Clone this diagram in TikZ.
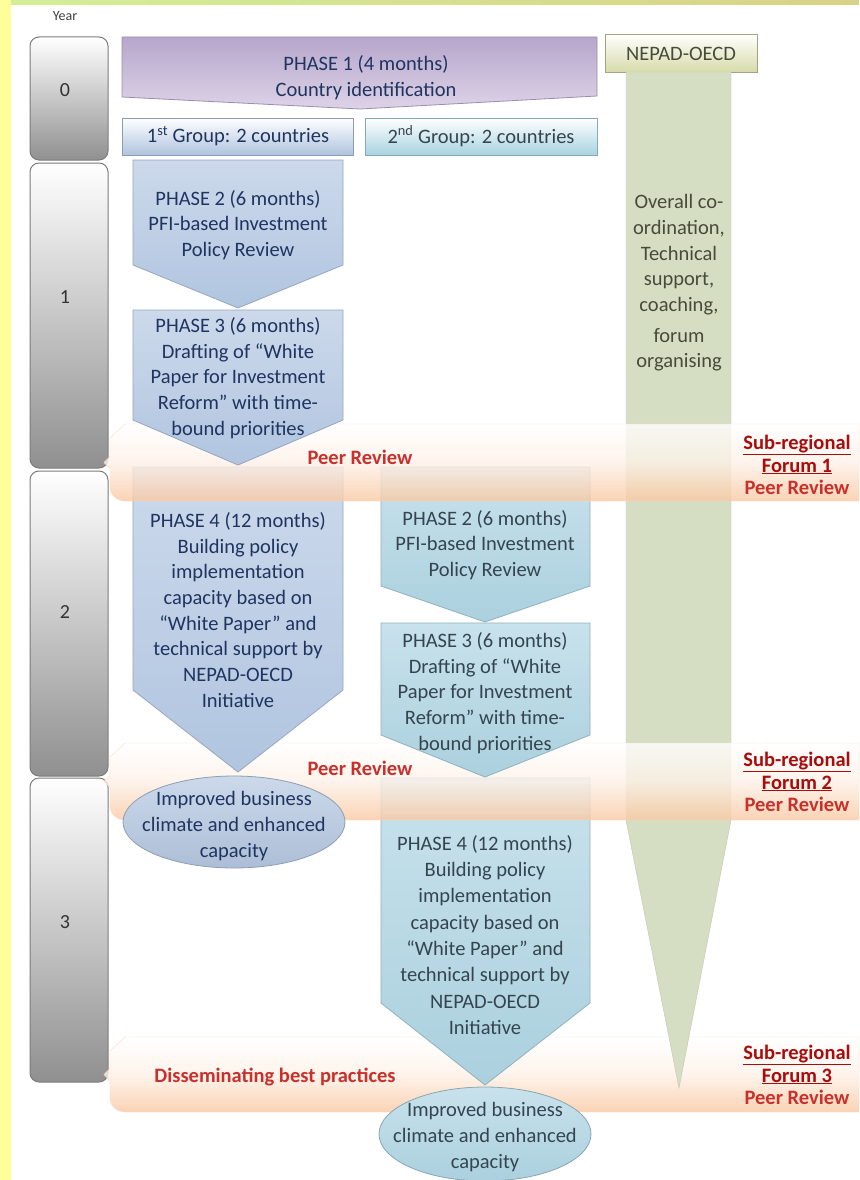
\documentclass[tikz,border=0pt]{standalone}
\usepackage{fontspec}
\setmainfont{Carlito}
\usetikzlibrary{shapes.geometric}

\definecolor{stripyellow}{HTML}{FFFF99}
\definecolor{stripgreen}{HTML}{D4EE98}
\definecolor{stripolive}{HTML}{D8D286}
\definecolor{yeargray}{HTML}{7C7C7C}
\definecolor{phaseonelight}{HTML}{DDD3E7}
\definecolor{phaseonedark}{HTML}{B6A6CC}
\definecolor{groupblue}{HTML}{AFC3DF}
\definecolor{groupcyan}{HTML}{A7D3E0}
\definecolor{arrowblue}{HTML}{B1C5E0}
\definecolor{arrowbluelight}{HTML}{CCD9EB}
\definecolor{arrowcyan}{HTML}{ABD0DE}
\definecolor{arrowcyanlight}{HTML}{C8E2EC}
\definecolor{nepadbox}{HTML}{D7DBAA}
\definecolor{nepadgreen}{HTML}{D5DEC2}
\definecolor{bandorange}{HTML}{FAC8A2}
\definecolor{navytext}{HTML}{1F3560}
\definecolor{slatetext}{HTML}{34454F}
\definecolor{olivetext}{HTML}{474C3A}
\definecolor{reviewred}{HTML}{C8302C}
\definecolor{forumred}{HTML}{A80C0C}

\newcommand{\forumband}[2]{%
  \pgfmathsetmacro\bandmid{(#1+#2)/2}%
  \path[bandfill] (125,#1) -- (859,#1) -- (859,#2) -- (125,#2)
    to[out=180,in=-90] (110,#2-14) -- (110,\bandmid+6) -- (104,\bandmid)
    -- (110,\bandmid-6) -- (110,#1+14) -- cycle;}

\begin{document}
\begin{tikzpicture}[x=1pt, y=-1pt,
  yearbox/.style={draw=yeargray, line width=1, rounded corners=9, top color=white, bottom color=yeargray!85},
  bandfill/.style={top color=white, bottom color=bandorange, middle color=bandorange!25, draw=bandorange!60, fill opacity=0.8},
  arrowone/.style={top color=arrowbluelight, bottom color=arrowblue, draw=arrowblue!85!black, line width=0.8},
  arrowtwo/.style={top color=arrowcyanlight, bottom color=arrowcyan, draw=arrowcyan!85!black, line width=0.8},
  basetext/.style={align=center, font=\fontsize{20.5}{25.7}\selectfont},
  phasetext/.style={basetext, text=navytext},
  phasetexttwo/.style={basetext, text=slatetext},
  reviewtext/.style={align=center, text=reviewred, font=\bfseries\fontsize{20.5}{22.5}\selectfont}]

\useasboundingbox (0,0) rectangle (859,1180);
\fill[white] (0,0) rectangle (859,1180);
\fill[stripyellow] (0,0) rectangle (11,1180);
\shade[left color=stripgreen, right color=stripolive] (11,0) rectangle (859,5);

\node[text=black!75, font=\fontsize{14}{16}\selectfont] (yearhead) at (65,16) {Year};
\foreach \yr/\yt/\yb/\yl in {0/37/160/90, 1/163/468/297, 2/471/776/612, 3/778/1082/922}
{
    \path[yearbox] (30,\yt) rectangle (108,\yb);
    \node[text=black!80, font=\fontsize{20}{24}\selectfont] (year\yr) at (65,\yl) {\yr};
}

\path[top color=phaseonedark, bottom color=phaseonelight, draw=phaseonedark!85!black, line width=0.8]
    (122,37) -- (597,37) -- (597,96) -- (360,109) -- (122,97) -- cycle;
\path[top color=white, bottom color=groupblue, draw=groupblue!80!black, line width=0.8] (122,118) rectangle (353,155);
\path[top color=white, bottom color=groupcyan, draw=groupcyan!80!black, line width=0.8] (365,118) rectangle (597,155);
\path[top color=white, bottom color=nepadbox, draw=nepadbox!75!black, line width=0.8] (605,34) rectangle (757,72);

\forumband{1037}{1112}
\fill[nepadgreen, draw=nepadgreen!90!black] (626,72) -- (731,72) -- (731,820) -- (679,1088) -- (626,820) -- cycle;
\path[arrowtwo] (381,778) -- (590,778) -- (590,1003) -- (485,1085) -- (381,1003) -- cycle;
\forumband{743}{820}
\path[arrowone] (133,467) -- (343,467) -- (343,690) -- (238,772) -- (133,690) -- cycle;
\path[arrowtwo] (381,467) -- (590,467) -- (590,586) -- (485,622) -- (381,586) -- cycle;
\forumband{424}{501}
\path[arrowone] (133,160) -- (343,160) -- (343,265) -- (238,308) -- (133,265) -- cycle;
\path[arrowone] (133,310) -- (343,310) -- (343,420) -- (238,465) -- (133,420) -- cycle;
\path[arrowtwo] (381,623) -- (590,623) -- (590,735) -- (485,777) -- (381,735) -- cycle;
\path[top color=arrowbluelight, bottom color=arrowblue!90!gray, draw=arrowblue!80!black, line width=0.8] (234,822) ellipse [x radius=111, y radius=46];
\path[top color=arrowcyanlight, bottom color=arrowcyan, draw=arrowcyan!80!black, line width=0.8] (485,1134) ellipse [x radius=106, y radius=47];

\node[phasetext] (phaseone) at (366,78) {PHASE 1 (4 months)\\Country identification};
\node[phasetext] (groupone) at (238,136) {1\textsuperscript{st} Group: 2 countries};
\node[phasetexttwo] (grouptwo) at (481,136) {2\textsuperscript{nd} Group: 2 countries};
\node[basetext, text=olivetext] (nepad) at (681,54) {NEPAD-OECD};
\node[basetext, text=olivetext] (coordination) at (679,283) {Overall co-\\ordination,\\Technical\\support,\\coaching,\\[5pt]forum\\organising};

\node[phasetext] (reviewone) at (238,225) {PHASE 2 (6 months)\\PFI-based Investment\\Policy Review};
\node[phasetext] (draftone) at (238,378) {PHASE 3 (6 months)\\Drafting of ``White\\Paper for Investment\\Reform'' with time-\\bound priorities};
\node[phasetext] (buildone) at (238,610) {PHASE 4 (12 months)\\Building policy\\implementation\\capacity based on\\``White Paper'' and\\technical support by\\NEPAD-OECD\\Initiative};
\node[phasetext] (outcomeone) at (234,826) {Improved business\\climate and enhanced\\capacity};

\node[phasetexttwo] (reviewtwo) at (485,545) {PHASE 2 (6 months)\\PFI-based Investment\\Policy Review};
\node[phasetexttwo] (drafttwo) at (485,693) {PHASE 3 (6 months)\\Drafting of ``White\\Paper for Investment\\Reform'' with time-\\bound priorities};
\node[phasetexttwo, font=\fontsize{20.5}{26.3}\selectfont] (buildtwo) at (485,935) {PHASE 4 (12 months)\\Building policy\\implementation\\capacity based on\\``White Paper'' and\\technical support by\\NEPAD-OECD\\Initiative};
\node[phasetexttwo] (outcometwo) at (485,1137) {Improved business\\climate and enhanced\\capacity};

\node[reviewtext] (peerone) at (360,457) {Peer Review};
\node[reviewtext] (peertwo) at (360,768) {Peer Review};
\node[reviewtext] (dissemination) at (275,1077) {Disseminating best practices};
\foreach \fn/\fy in {1/465, 2/782, 3/1075}
    \node[reviewtext] (forum\fn) at (797,\fy) {\textcolor{forumred}{\underline{Sub-regional}}\\\textcolor{forumred}{\underline{Forum \fn}}\\Peer Review};

\end{tikzpicture}
\end{document}
